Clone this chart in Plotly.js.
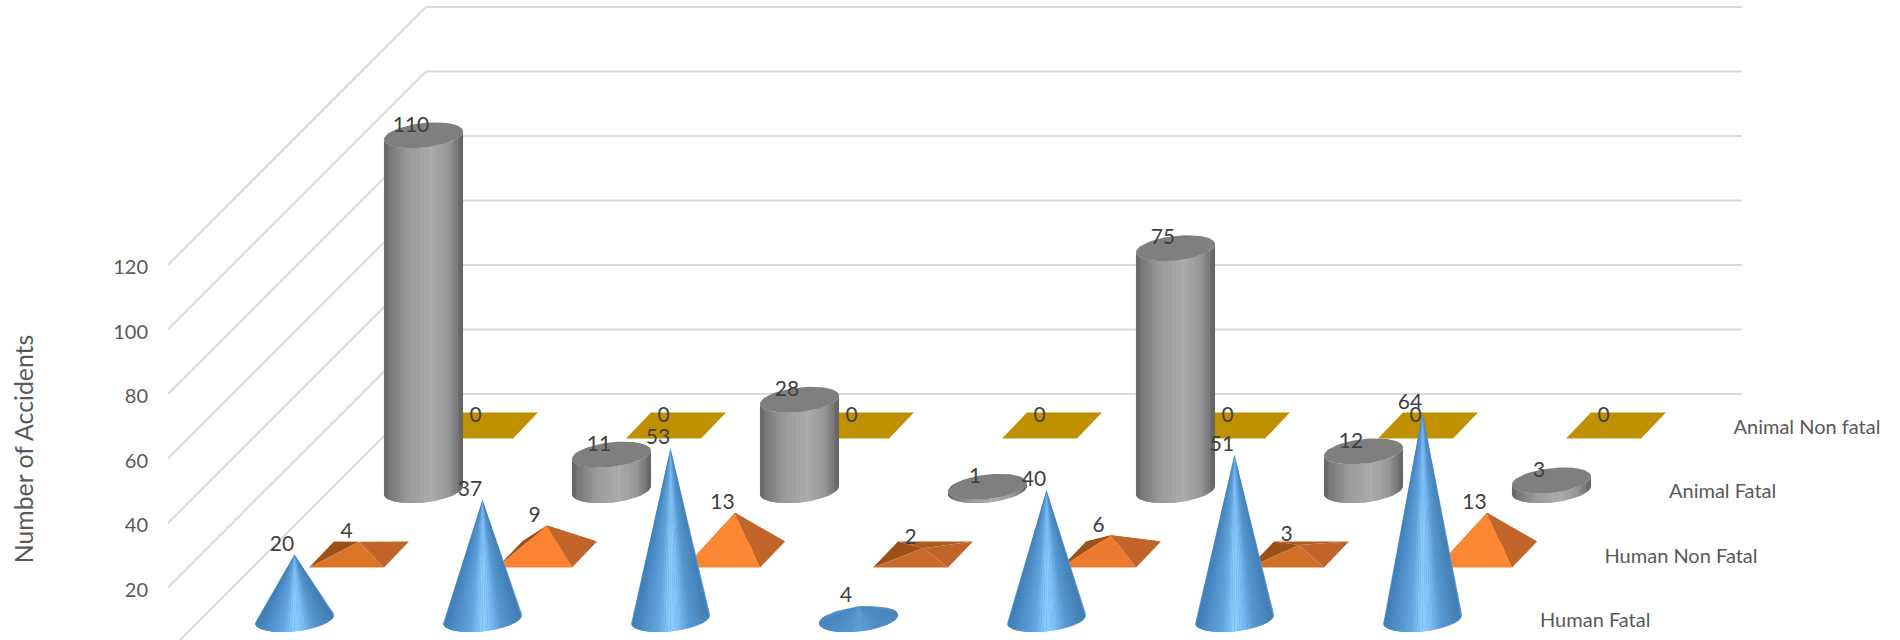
<!DOCTYPE html>
<html>
<head>
<meta charset="utf-8">
<script src="https://cdn.plot.ly/plotly-3.0.1.min.js"></script>
<style>html,body{margin:0;padding:0;background:#fff}#chart{width:1900px;height:640px}</style>
</head>
<body>
<div id="chart"></div>
<script>
// ---- chart data ----
const seriesNames = ["Human Fatal", "Human Non Fatal", "Animal Fatal", "Animal Non fatal"];
const humanFatal = [20, 37, 53, 4, 40, 51, 64];
const humanNonFatal = [4, 9, 13, 2, 6, 3, 13];
const animalFatal = [110, 11, 28, 1, 75, 12, 3];
const animalNonFatal = [0, 0, 0, 0, 0, 0, 0];
const valueTicks = [0, 20, 40, 60, 80, 100, 120];
const valueTitle = "Number of Accidents";

// ---- oblique projection of the 3D plot box onto the 2D axes ----
const PX = 3.225;                    // screen pixels per value unit
const rowDepthY = 20;                // one series row backwards, in value units
const rowDepthX = rowDepthY * PX;    // same, in x-axis units
const x0 = 294.5, colStep = 188, y0 = 10.2;
const ux = 37.5, vx = 12.5, vy = 13 / PX;   // half-width and half-depth vectors of a marker
const wallFrontX = 168, wallBackX = wallFrontX + 4 * rowDepthX;
const wallEndX = 1742;
const proj = (col, row, h) => [x0 + colStep * col + rowDepthX * row, y0 + rowDepthY * row + h];
const ell = (c, t) => [c[0] + Math.cos(t) * ux + Math.sin(t) * vx, c[1] + Math.sin(t) * vy];

function hex(c){ return [1,3,5].map(i => parseInt(c.substr(i,2),16)); }
function rampRgb(stops, s){
  s = Math.max(0, Math.min(1, s));
  for (let i = 1; i < stops.length; i++) {
    if (s <= stops[i][0]) {
      const a = stops[i-1], b = stops[i], f = (s - a[0]) / (b[0] - a[0] || 1);
      const A = hex(a[1]), B = hex(b[1]);
      return A.map((v,k) => v + (B[k]-v)*f);
    }
  }
  return hex(stops[stops.length-1][1]);
}
const css = c => "rgb(" + c.map(Math.round).join(",") + ")";
const ramp = (stops, s) => css(rampRgb(stops, s));
const greyRamp = [[0,"#585858"],[.07,"#747474"],[.3,"#9b9b9b"],[.6,"#adadad"],[.82,"#979797"],[.94,"#707070"],[1,"#575757"]];
const blueRamp = [[0,"#3a77ad"],[.12,"#4a88c2"],[.35,"#62a6e0"],[.5,"#8ed0ff"],[.6,"#7fc0f8"],[.75,"#5597d0"],[1,"#3d78ab"]];
const frontRamp = [[0,"#c2652a"],[2/14,"#c76a2a"],[4/14,"#dd7528"],[6/14,"#ec7a2f"],[9/14,"#fb8232"],[1,"#ff8833"]];

// polygons are grouped by colour into one filled trace each
function group(){ return new Map(); }
function addPoly(g, color, pts){
  if (!g.has(color)) g.set(color, {x:[], y:[]});
  const t = g.get(color);
  pts.concat([pts[0]]).forEach(p => { t.x.push(p[0]); t.y.push(p[1]); });
  t.x.push(null); t.y.push(null);
}
function flush(g, out, lw){
  g.forEach((t, color) => out.push({
    type:"scatter", mode:"lines", x:t.x, y:t.y, fill:"toself", fillcolor:color,
    line:{color:color, width:lw}, hoverinfo:"skip", showlegend:false
  }));
}

const traces = [];

// gridlines on side wall and back wall
const gx = [], gy = [];
valueTicks.forEach(v => {
  gx.push(wallFrontX, wallBackX, wallEndX, null);
  gy.push(v, v + 4 * rowDepthY, v + 4 * rowDepthY, null);
});
traces.push({type:"scatter", mode:"lines", x:gx, y:gy, line:{color:"#D9D9D9", width:2},
  hoverinfo:"skip", showlegend:false});

// row 3: flat bars (value 0 draws a flat square)
function boxes(values, row, color){
  const g = group();
  values.forEach((v, c) => {
    const p = proj(c, row, v);
    addPoly(g, color, [
      [p[0]-ux-vx, p[1]-vy], [p[0]+ux-vx, p[1]-vy], [p[0]+ux+vx, p[1]+vy], [p[0]-ux+vx, p[1]+vy]
    ]);
  });
  flush(g, traces, 0);
}
boxes(animalNonFatal, 3, "#BF9000");

// row 2: cylinders
function cylinders(values, row){
  const under = group(), side = group(), top = group();
  const N = 48, t0 = Math.atan2(vx, ux);
  const xExt = Math.hypot(ux, vx);
  values.forEach((v, c) => {
    const b = proj(c, row, 0), h = proj(c, row, v);
    const outline = [];
    for (let i = 0; i <= N; i++) outline.push(ell(b, t0 + Math.PI + Math.PI * i / N));
    for (let i = N; i >= 0; i--) outline.push(ell(h, t0 + Math.PI + Math.PI * i / N));
    addPoly(under, "#8f8f8f", outline);
    for (let i = 0; i < N; i++) {
      const a1 = t0 + Math.PI + Math.PI * i / N, a2 = t0 + Math.PI + Math.PI * (i + 1) / N;
      const s = (Math.cos((a1+a2)/2) * ux + Math.sin((a1+a2)/2) * vx + xExt) / (2 * xExt);
      addPoly(side, ramp(greyRamp, s), [ell(b,a1), ell(b,a2), ell(h,a2), ell(h,a1)]);
    }
    const pts = [];
    for (let i = 0; i < 72; i++) pts.push(ell(h, i * Math.PI / 36));
    addPoly(top, "#7f7f7f", pts);
  });
  flush(under, traces, 0);
  flush(side, traces, 0);
  flush(top, traces, 0);
}
cylinders(animalFatal, 2);

// row 1: pyramids
function pyramids(values, row){
  const back = group(), left = group(), front = group(), right = group();
  values.forEach((v, c) => {
    const b = proj(c, row, 0), a = proj(c, row, v);
    const BL = [b[0]-ux-vx, b[1]-vy], BR = [b[0]+ux-vx, b[1]-vy];
    const TR = [b[0]+ux+vx, b[1]+vy], TL = [b[0]-ux+vx, b[1]+vy];
    addPoly(back, "#b05c20", [TL, TR, a]);
    addPoly(left, "#9c5119", [BL, TL, a]);
    addPoly(front, ramp(frontRamp, v / 14), [BL, BR, a]);
    addPoly(right, "#c2652a", [BR, TR, a]);
  });
  [back, left, front, right].forEach(g => flush(g, traces, 0));
}
pyramids(humanNonFatal, 1);

// row 0: cones
function cones(values, row){
  const under = group(), g = group(), N = 48;
  const flatBlue = hex("#4d8ac2");
  values.forEach((v, c) => {
    const b = proj(c, row, 0), a = proj(c, row, v);
    const q = v / vy, p = -vx * q / ux, R = Math.hypot(p, q), phi = Math.atan2(q, p);
    const d = R > 1 ? Math.acos(1 / R) : Math.PI;
    const from = phi + d, to = phi + 2 * Math.PI - d;
    const pts = [];
    for (let i = 0; i <= N; i++) pts.push(ell(b, from + (to - from) * i / N));
    addPoly(under, "#5a9ad4", [a].concat(pts));
    const xs = pts.map(t => t[0]), lo = Math.min(...xs), hi = Math.max(...xs);
    const steep = Math.min(1, v / 15);
    for (let i = 0; i < N; i++) {
      const s = ((pts[i][0] + pts[i+1][0]) / 2 - lo) / (hi - lo);
      const col = rampRgb(blueRamp, s).map((x,k) => flatBlue[k] + (x - flatBlue[k]) * steep);
      addPoly(g, css(col), [a, pts[i], pts[i+1]]);
    }
  });
  flush(under, traces, 0);
  flush(g, traces, 0);
}
cones(humanFatal, 0);

// data labels
const lblDx = -12.5, lblDy = 9 / PX;
const labelFont = {family:"Lato, Carlito, sans-serif", size:21, color:"#404040"};
[humanFatal, humanNonFatal, animalFatal, animalNonFatal].forEach((vals, row) => {
  traces.push({
    type:"scatter", mode:"text", hoverinfo:"skip", showlegend:false,
    x: vals.map((v,c) => proj(c,row,v)[0] + lblDx),
    y: vals.map((v,c) => proj(c,row,v)[1] + lblDy),
    text: vals.map(String), textposition:"middle center", textfont:labelFont
  });
});

// depth-axis (series) labels, drawn against the visible value axis
traces.push({
  type:"scatter", mode:"text", yaxis:"y2", cliponaxis:false, hoverinfo:"skip", showlegend:false,
  x: seriesNames.map((n,r) => 1540 + rowDepthX * r),
  y: seriesNames.map((n,r) => y0 + rowDepthY * r - 3 / PX),
  text: seriesNames, textposition:"middle right",
  textfont:{family:"Lato, Carlito, sans-serif", size:20, color:"#595959"}
});

const L = 149, H = 640, axisTop = 258;
const layout = {
  width:1900, height:H, paper_bgcolor:"#ffffff", plot_bgcolor:"rgba(0,0,0,0)",
  margin:{l:L, r:0, t:0, b:0, pad:0}, showlegend:false,
  xaxis:{visible:false, range:[L,1900], fixedrange:true},
  // full-height axis that carries the marks
  yaxis:{visible:false, range:[(652-H)/PX, 652/PX], fixedrange:true},
  // value axis: same scale, shortened so that its title sits where the reference has it
  yaxis2:{
    domain:[0, (H-axisTop)/H], anchor:"x",
    range:[(652-H)/PX, (652-axisTop)/PX], tickvals:valueTicks, ticks:"", showgrid:false, zeroline:false, showline:false,
    fixedrange:true, ticklabelshift:2,
    tickfont:{family:"Lato, Carlito, sans-serif", size:20, color:"#595959"},
    title:{text:valueTitle, font:{family:"Lato, Carlito, sans-serif", size:24.8, color:"#595959"}, standoff:72}
  }
};
Plotly.newPlot("chart", traces, layout, {displayModeBar:false, staticPlot:true});
</script>
</body>
</html>
